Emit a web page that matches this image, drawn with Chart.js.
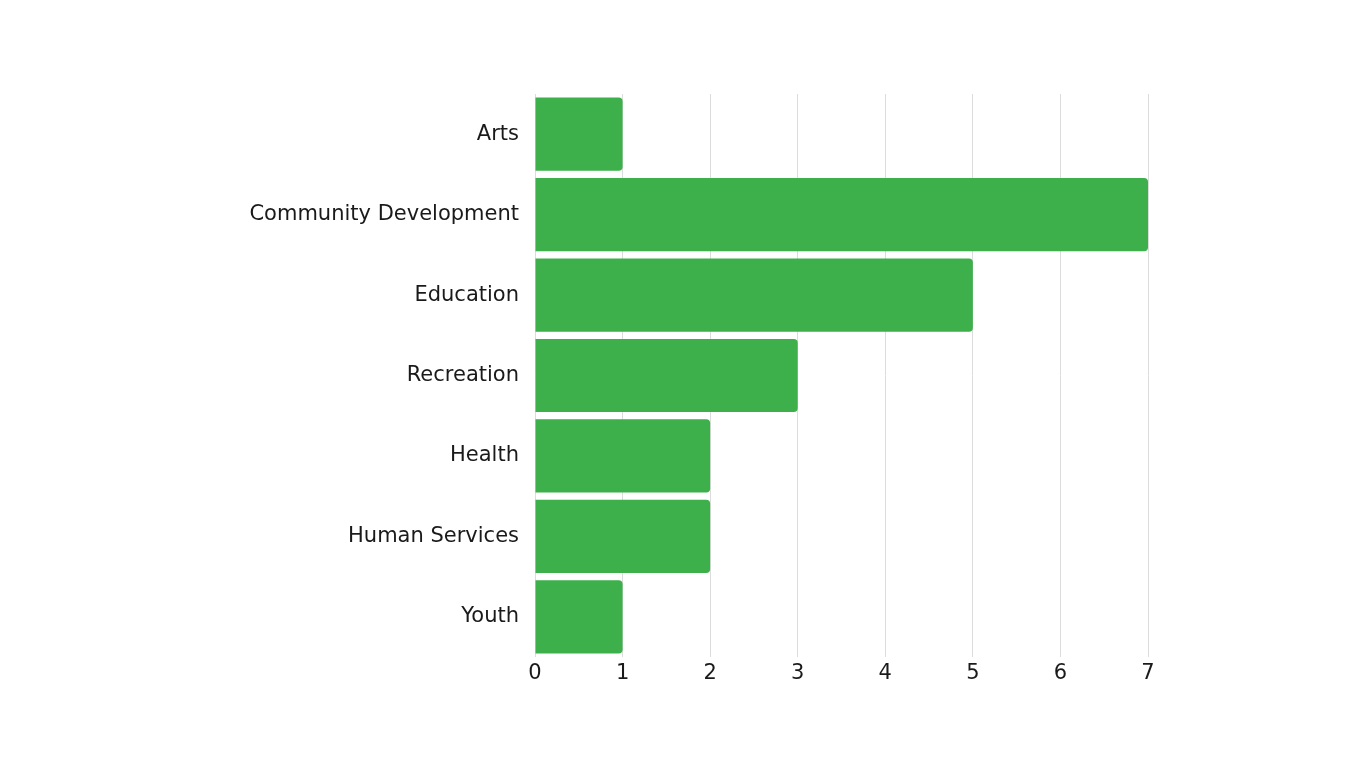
<!DOCTYPE html>
<html>
<head>
<meta charset="utf-8">
<script src="https://cdn.jsdelivr.net/npm/chart.js@4"></script>
<style>
  html, body { margin: 0; padding: 0; background: #fff; }
  #wrap { width: 1366px; height: 768px; }
</style>
</head>
<body>
<div id="wrap"><canvas id="myChart" width="1366" height="768"></canvas></div>
<script>
// chart data
var categories = ['Arts', 'Community Development', 'Education', 'Recreation', 'Health', 'Human Services', 'Youth'];
var counts = [1, 7, 5, 3, 2, 2, 1];
var xTicks = [0, 1, 2, 3, 4, 5, 6, 7];

var barColor = '#3daf4b';
var fontFamily = "'DejaVu Sans', sans-serif";

var ctx = document.getElementById('myChart');

new Chart(ctx, {
    type: 'bar',
    data: {
        labels: categories,
        datasets: [{
            data: counts,
            backgroundColor: barColor,
            borderRadius: 4,
            borderSkipped: 'start',
            categoryPercentage: 1,
            barPercentage: 0.91
        }]
    },
    options: {
        indexAxis: 'y',
        responsive: false,
        animation: false,
        layout: {
            padding: { top: 94, right: 218, bottom: 0, left: 0 }
        },
        plugins: {
            legend: { display: false },
            tooltip: { enabled: false }
        },
        scales: {
            x: {
                min: 0,
                max: 7,
                afterBuildTicks: function (scale) {
                    scale.ticks = xTicks.map(function (v) { return { value: v }; });
                },
                afterFit: function (scale) { scale.height = 111; },
                grid: { color: '#dcdcdc', lineWidth: 1, drawTicks: false },
                border: { display: false },
                ticks: {
                    padding: 4,
                    color: '#1a1a1a',
                    font: { family: fontFamily, size: 21 }
                }
            },
            y: {
                afterFit: function (scale) { scale.width = 535; },
                grid: { display: false, drawTicks: false },
                border: { display: false },
                ticks: {
                    padding: 16,
                    color: '#1a1a1a',
                    font: { family: fontFamily, size: 21 }
                }
            }
        }
    }
});
</script>
</body>
</html>
